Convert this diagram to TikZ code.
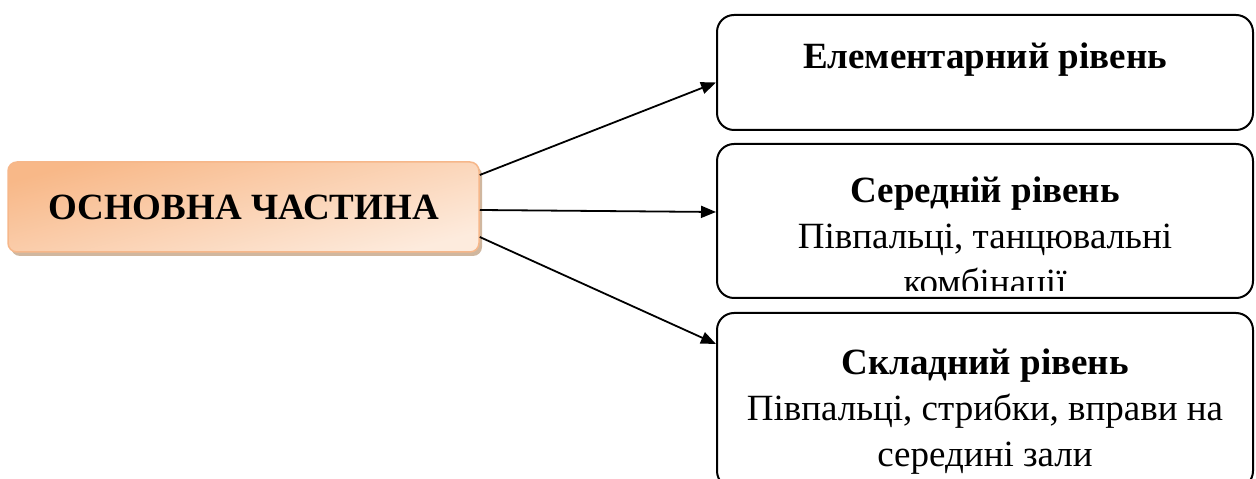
\documentclass[tikz,border=0pt]{standalone}
\usepackage{fontspec}
\setmainfont{Liberation Serif}
\usepackage{tikz}
\usetikzlibrary{arrows.meta, positioning, shadows}
\definecolor{Ink}{HTML}{000000}
\definecolor{Peach}{HTML}{F8B888}
\definecolor{Cream}{HTML}{FDEBDD}
\definecolor{PeachEdge}{HTML}{F6B78A}
\definecolor{Umber}{HTML}{B0875F}

\begin{document}
\begin{tikzpicture}[
        x=1pt, y=1pt,
        font=\fontsize{37}{46}\selectfont,
        part/.style={draw=PeachEdge, line width=1.5pt, rounded corners=9pt, minimum width=471pt, minimum height=90pt,
          top color=Peach, bottom color=Cream, shading angle=15,
          drop shadow={shadow xshift=3pt, shadow yshift=-4pt, fill=Umber, opacity=0.6},
          font=\fontsize{37}{44}\selectfont\bfseries},
        level/.style={draw=Ink, line width=2pt, rounded corners=17pt, minimum width=536pt},
        caption/.style={align=center, inner sep=0pt, anchor=base},
        arr/.style={-{Triangle[length=15pt, width=12pt]}, line width=1.8pt, color=Ink}
      ]
        \useasboundingbox (0,0) rectangle (1256,479);

        \node[part] (main) at (243.5,272) {ОСНОВНА ЧАСТИНА};

        \node[level, minimum height=115pt] (easy) at (985,406.5) {};
        \node[level, minimum height=154pt] (mid) at (985,258) {};
        \node[level, minimum height=175pt] (hard) at (985,78.5) {};

        % base anchor = last line
        \node[caption] (easytxt) at (985,410) {\textbf{Елементарний рівень}};
        \begin{scope}
          \clip (717,188) rectangle (1253,335);
          \node[caption] (midtxt) at (985,184) {\textbf{Середній рівень}\\Півпальці, танцювальні\\комбінації};
        \end{scope}
        \node[caption] (hardtxt) at (985,12) {\textbf{Складний рівень}\\Півпальці, стрибки, вправи на\\середині зали};

        \draw[arr] ([yshift=32pt]main.east) -- ([yshift=-10pt]easy.west);
        \draw[arr] ([yshift=-3pt]main.east) -- ([yshift=9pt]mid.west);
        \draw[arr] ([yshift=-30pt]main.east) -- ([yshift=-32pt]hard.north west);
      \end{tikzpicture}
\end{document}
